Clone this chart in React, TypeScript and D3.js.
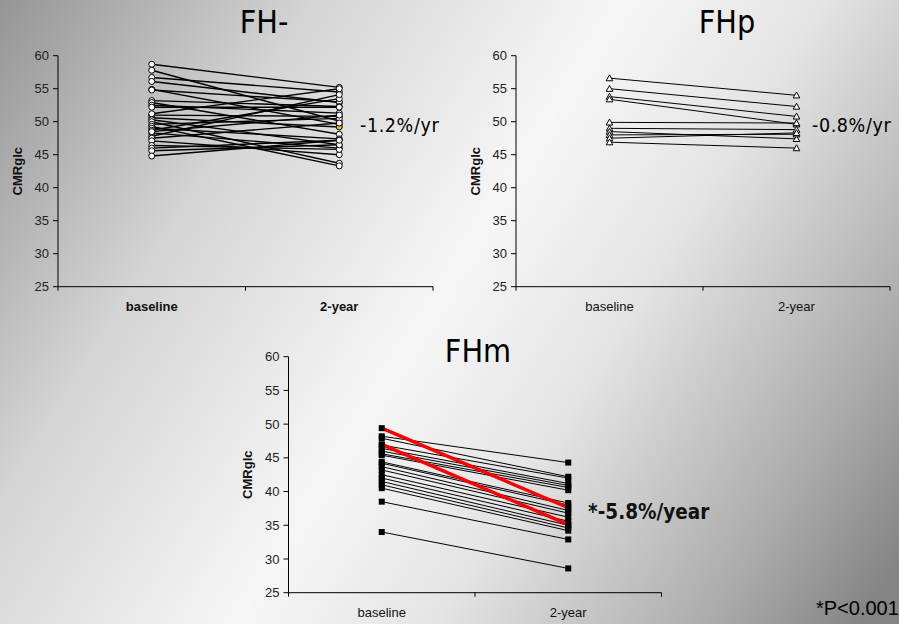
import React from 'react';
import * as d3 from 'd3';

const categories = ['baseline', '2-year'];
const yTicks = [25, 30, 35, 40, 45, 50, 55, 60];

// FH- group
const fhMinusBaseline = [58.7, 57.8, 56.7, 56.1, 54.9, 54.8, 53.2, 52.9, 52.5, 52.2, 51.0, 50.6, 50.3, 50.0, 49.6, 49.3, 49.0, 48.7, 48.3, 47.8, 47.5, 47.1, 46.4, 46.0, 45.6, 44.8, 48.5, 51.2];
const fhMinus2yr = [55.2, 50.1, 54.5, 52.9, 49.6, 53.0, 52.3, 48.1, 51.3, 52.2, 50.8, 49.2, 46.5, 43.7, 50.5, 43.3, 47.4, 53.5, 46.0, 54.1, 49.8, 45.0, 45.8, 47.2, 46.5, 47.2, 51.0, 55.0];
const fhMinusHighlight = [11]; // yellow-filled marker

// FHp group
const fhpBaseline = [56.6, 55.0, 53.8, 53.4, 49.9, 49.0, 48.5, 48.0, 47.5, 46.9];
const fhp2yr = [54.0, 52.3, 50.8, 49.6, 49.8, 48.8, 47.4, 48.1, 48.3, 46.0];

// FHm group
const fhmBaseline = [48.2, 47.9, 46.9, 46.4, 46.0, 45.6, 45.4, 44.4, 44.2, 43.7, 43.2, 42.5, 42.0, 41.5, 41.0, 40.5, 38.5, 34.0, 49.4, 47.0];
const fhm2yr = [44.3, 42.2, 42.0, 41.2, 40.9, 40.6, 40.2, 38.3, 38.0, 37.2, 36.8, 36.2, 35.6, 35.0, 34.6, 34.2, 32.9, 28.6, 37.6, 35.1];
const fhmRed = [18, 19];

const titles = ['FH-', 'FHp', 'FHm'];
const rates = ['-1.2%/yr', '-0.8%/yr', '*-5.8%/year'];
const footnote = '*P<0.001';
const yLabel = 'CMRglc';

type PanelProps = {
  x0: number; x1: number; yTop: number; yBottom: number;
  base: number[]; two: number[]; marker: 'circle' | 'triangle' | 'square';
  boldCats: boolean; red?: number[]; highlight?: number[]; lineWidth: number;
};

const Panel: React.FC<PanelProps> = ({ x0, x1, yTop, yBottom, base, two, marker, boldCats, red = [], highlight = [], lineWidth }) => {
  const x = d3.scaleBand<string>().domain(categories).range([x0, x1]);
  const y = d3.scaleLinear().domain([25, 60]).range([yBottom, yTop]);
  const cx = (c: string) => (x(c) as number) + x.bandwidth() / 2;
  const line = d3.line<[number, number]>().x(d => d[0]).y(d => d[1]);
  const font = 'Liberation Sans, Arial, sans-serif';
  const drawMarker = (px: number, py: number, i: number, key: string) => {
    if (marker === 'circle') {
      return <circle key={key} cx={px} cy={py} r={3} fill={highlight.includes(i) ? '#f0c000' : '#fff'} stroke="#000" strokeWidth={1} />;
    }
    if (marker === 'triangle') {
      const s = 3.3;
      return <path key={key} d={`M${px},${py - s}L${px + s},${py + s * 0.8}L${px - s},${py + s * 0.8}Z`} fill="#fff" stroke="#000" strokeWidth={1} />;
    }
    return <rect key={key} x={px - 3} y={py - 3} width={6} height={6} fill="#000" />;
  };
  const order = base.map((_, i) => i).sort((a, b) => (red.includes(a) ? 1 : 0) - (red.includes(b) ? 1 : 0));
  return (
    <g>
      <line x1={x0} x2={x0} y1={yTop} y2={yBottom} stroke="#000" />
      {yTicks.map(t => (
        <g key={t}>
          <line x1={x0 - 5} x2={x0} y1={y(t)} y2={y(t)} stroke="#000" />
          <text x={x0 - 9} y={y(t)} dy="0.35em" textAnchor="end" fontFamily={font} fontSize={13} fill="#222">{t}</text>
        </g>
      ))}
      <line x1={x0} x2={x1} y1={yBottom} y2={yBottom} stroke="#000" />
      {[x0, (x0 + x1) / 2, x1].map((t, i) => (
        <line key={i} x1={t} x2={t} y1={yBottom} y2={yBottom + 4} stroke="#000" />
      ))}
      {categories.map(c => (
        <text key={c} x={cx(c)} y={yBottom + 24} textAnchor="middle" fontFamily={font} fontSize={13} fontWeight={boldCats ? 'bold' : 'normal'} fill="#111">{c}</text>
      ))}
      <text transform={`translate(${x0 - 41},${(yTop + yBottom) / 2}) rotate(-90)`} textAnchor="middle" dy="0.35em" fontFamily={font} fontSize={13} fontWeight="bold" fill="#111">{yLabel}</text>
      {order.map(i => (
        <path key={'l' + i} d={line([[cx(categories[0]), y(base[i])], [cx(categories[1]), y(two[i])]]) as string}
          stroke={red.includes(i) ? '#ff0000' : '#000'} strokeWidth={red.includes(i) ? 3.5 : lineWidth} fill="none" />
      ))}
      {base.map((v, i) => drawMarker(cx(categories[0]), y(v), i, 'b' + i))}
      {two.map((v, i) => drawMarker(cx(categories[1]), y(v), i, 't' + i))}
    </g>
  );
};

export default function App() {
  const W = 899, H = 624;
  const titleFont = 'DejaVu Sans Condensed, DejaVu Sans, sans-serif';
  return (
    <svg width={W} height={H} style={{ position: 'absolute', left: 0, top: 0 }}>
      <defs>
        <linearGradient id="bg" x1="0" y1="0" x2={W} y2={560} gradientUnits="userSpaceOnUse">
          <stop offset="0" stopColor="#959595" />
          <stop offset="0.25" stopColor="#d4d4d4" />
          <stop offset="0.5" stopColor="#f6f6f6" />
          <stop offset="0.66" stopColor="#e4e4e4" />
          <stop offset="0.88" stopColor="#ababab" />
          <stop offset="1" stopColor="#858585" />
        </linearGradient>
      </defs>
      <rect width={W} height={H} fill="url(#bg)" />
      <Panel x0={58} x1={433} yTop={55.7} yBottom={286.7} base={fhMinusBaseline} two={fhMinus2yr} marker="circle" boldCats highlight={fhMinusHighlight} lineWidth={1.4} />
      <Panel x0={516} x1={890} yTop={55.7} yBottom={286.7} base={fhpBaseline} two={fhp2yr} marker="triangle" boldCats={false} lineWidth={1} />
      <Panel x0={288.5} x1={661.5} yTop={356.7} yBottom={592.7} base={fhmBaseline} two={fhm2yr} marker="square" boldCats={false} red={fhmRed} lineWidth={1} />
      <text x={264} y={33} textAnchor="middle" fontFamily={titleFont} fontSize={32} fill="#000">{titles[0]}</text>
      <text x={727} y={33} textAnchor="middle" fontFamily={titleFont} fontSize={32} fill="#000">{titles[1]}</text>
      <text x={478} y={362} textAnchor="middle" fontFamily={titleFont} fontSize={32} fill="#000">{titles[2]}</text>
      <text x={360} y={131.5} fontFamily={titleFont} fontSize={19.5} letterSpacing={0.6} fill="#000">{rates[0]}</text>
      <text x={812} y={131.5} fontFamily={titleFont} fontSize={19.5} letterSpacing={0.6} fill="#000">{rates[1]}</text>
      <text x={588} y={519} fontFamily={titleFont} fontSize={20.5} fontWeight="bold" fill="#111">{rates[2]}</text>
      <text x={816} y={615} fontFamily="Liberation Sans, Arial, sans-serif" fontSize={20} fill="#000">{footnote}</text>
    </svg>
  );
}
